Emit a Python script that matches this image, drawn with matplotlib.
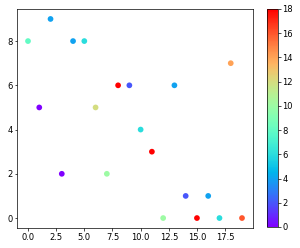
import matplotlib
matplotlib.use("Agg")
import matplotlib.pyplot as plt

x_vals = list(range(20))
y_vals = [8, 5, 9, 2, 8, 8, 5, 2, 6, 6, 4, 3, 0, 6, 1, 0, 1, 0, 7, 0]
c_vals = [8, 0, 4, 0, 4, 6, 12, 10, 18, 2, 6, 18, 10, 4, 2, 18, 4, 6, 14, 16]

fs = 6
fig = plt.figure(figsize=(3.0, 2.48), dpi=100)
ax = fig.add_axes([17.3 / 300, 20 / 248, 235.4 / 300, 219 / 248])
sc = ax.scatter(x_vals, y_vals, c=c_vals, cmap="rainbow", s=17, linewidths=0)
ax.set_xlim(-0.95, 19.95)
ax.set_ylim(-0.45, 9.45)
ax.set_xticks([0, 2.5, 5, 7.5, 10, 12.5, 15, 17.5])
ax.set_yticks([0, 2, 4, 6, 8])
ax.tick_params(labelsize=fs, length=1.8, width=0.5, pad=1.5)
for s in ax.spines.values():
    s.set_linewidth(0.5)

cax = fig.add_axes([267 / 300, 21 / 248, 11 / 300, 218 / 248])
cb = fig.colorbar(sc, cax=cax)
cb.set_ticks([0, 2, 4, 6, 8, 10, 12, 14, 16, 18])
cb.ax.tick_params(labelsize=fs, length=1.8, width=0.5, pad=1.5)
cb.outline.set_linewidth(0.5)

fig.savefig("out.png", dpi=100)
